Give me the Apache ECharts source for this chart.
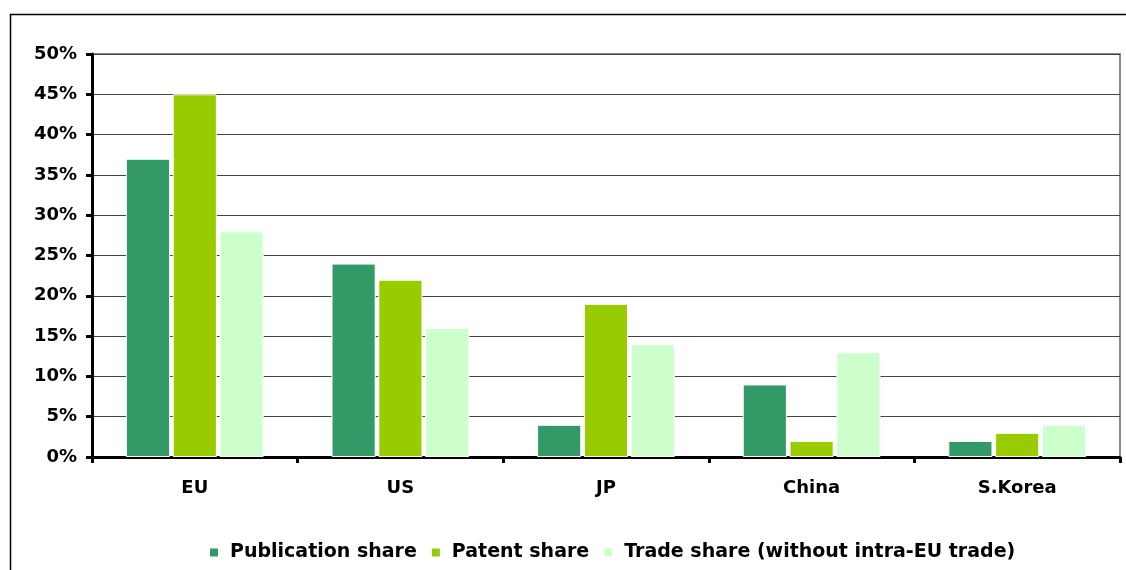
<!DOCTYPE html>
<html>
<head>
<meta charset="utf-8">
<script src="https://cdn.jsdelivr.net/npm/echarts@6/dist/echarts.min.js"></script>
<style>
  html, body { margin: 0; padding: 0; background: #fff; }
  #chart { width: 1126px; height: 570px; }
</style>
</head>
<body>
<div id="chart"></div>
<script>
// regions on the x axis
const categories = ['EU', 'US', 'JP', 'China', 'S.Korea'];
// shares in percent
const publicationShare = [37, 24, 4, 9, 2];
const patentShare = [45, 22, 19, 2, 3];
const tradeShare = [28, 16, 14, 13, 4];

const font = 'DejaVu Sans, Arial, sans-serif';

const chart = echarts.init(document.getElementById('chart'));

function barSeries(name, data, color) {
    return {
        name: name,
        type: 'bar',
        data: data,
        barGap: '6%',
        barCategoryGap: '33%',
        itemStyle: { color: color, borderColor: '#fff', borderWidth: 1 }
    };
}

const option = {
    backgroundColor: '#fff',
    animation: false,
    graphic: [
        {
            type: 'rect',
            shape: { x: 10.5, y: 14.5, width: 1130, height: 570 },
            style: { fill: 'none', stroke: '#000', lineWidth: 1.5 },
            silent: true
        },
        {
            type: 'rect',
            shape: { x: 92, y: 54, width: 1028, height: 403 },
            style: { fill: 'none', stroke: '#888', lineWidth: 2 },
            silent: true,
            z: 0
        }
    ],
    grid: { left: 92, top: 54, width: 1028, height: 403 },
    legend: {
        bottom: 3,
        left: 203,
        itemWidth: 10,
        itemHeight: 10,
        itemGap: 13,
        icon: 'rect',
        textStyle: {
            fontFamily: font, fontWeight: 'bold', fontSize: 19, color: '#000',
            padding: [0, 0, 0, 6]
        }
    },
    xAxis: {
        type: 'category',
        data: categories,
        axisLine: { lineStyle: { color: '#000', width: 3 } },
        axisTick: { show: true, length: 6, lineStyle: { color: '#000', width: 3 } },
        axisLabel: { fontFamily: font, fontWeight: 'bold', fontSize: 18, color: '#000', margin: 22 }
    },
    yAxis: {
        type: 'value',
        min: 0,
        max: 50,
        interval: 5,
        axisLine: { show: true, lineStyle: { color: '#000', width: 3 } },
        axisTick: { show: true, length: 6, lineStyle: { color: '#000', width: 3 } },
        axisLabel: {
            formatter: '{value}%',
            fontFamily: font, fontWeight: 'bold', fontSize: 18, color: '#000', margin: 15
        },
        splitLine: { lineStyle: { color: '#444', width: 1 } }
    },
    series: [
        barSeries('Publication share', publicationShare, '#339966'),
        barSeries('Patent share', patentShare, '#99CC00'),
        barSeries('Trade share (without intra-EU trade)', tradeShare, '#CCFFCC')
    ]
};

chart.setOption(option);
</script>
</body>
</html>
